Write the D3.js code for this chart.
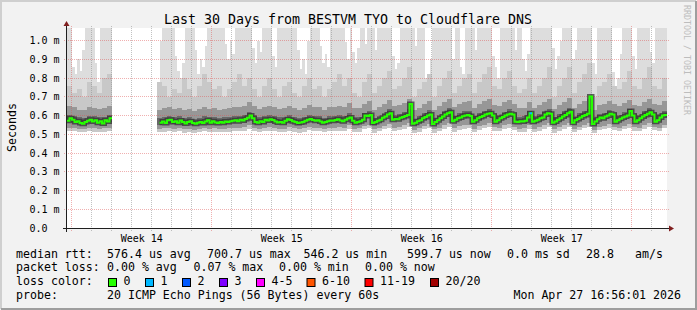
<!DOCTYPE html>
<html>
<head>
<meta charset="utf-8">
<script src="https://cdn.jsdelivr.net/npm/d3@7/dist/d3.min.js"></script>
<style>
  body { margin: 0; background: #f2f2f2; }
  svg { display: block; }
  text { font-family: "DejaVu Sans Mono", monospace; white-space: pre; }
</style>
</head>
<body>
<div id="chart"></div>
<script>
// ---- data ----
// time bins: median and max ping every 3 hours, the other percentiles every 6 hours (values in us)
var startTime = Date.UTC(2026, 2, 29, 18, 20);
var days = 30;

var med3h = [572,585,578,566,570,560,556,565,572,577,568,575,562,570,558,575,568,585,
  null,null,null,null,null,null,null,null,null,null,null,null,null,null,null,null,null,null,null,
  562,568,560,575,578,566,570,562,574,566,558,565,570,560,556,562,566,560,568,575,562,570,
  563,560,566,562,568,565,570,572, 575,570,578,574,582,588,600,585, 566,562,570,565,578,574,580,576,
  568,563,566,562,572,580,576,570, 565,560,563,566,572,578,582,576, 572,575,568,562,565,570,574,572,
  576,580,574,570,578,584,590,572, 562,566,570,578,
  600,598,603,560,565,572,578,588, 595,605,612,578,582,580,588,592, 598,603,661,556,562,570,575,585,
  592,600,605,555,565,575,585,595, 605,612,617,570,578,585,590,596, 600,603,598,567,575,585,592,598,
  605,610,612,600,567,575,585,592, 600,606,610,605,
  567,565,570,568,572,590,612,567, 572,578,585,590,605,612,610,562, 568,578,585,595,603,612,620,562,
  575,582,590,598,603,610,701,555, 568,580,590,585,595,600,610,605, 567,575,583,590,595,600,624,600,
  567,575,585,595,603,610,617,605, 567,575,590,600,603];

var max3h = [1100,1100,860,820,900,840,950,1100,1100,1100,1100,880,780,1100,1100,1100,1100,1100,
  null,null,null,null,null,null,null,null,null,null,null,null,null,null,null,null,null,null,null,
  1000,1100,1100,1100,1100,1100,920,840,800,880,1100,1100,1100,1100,950,820,900,860,970,1100,1100,1100,
  1100,1100,1100,1100,980,900,1000,930, 1100,1100,1100,1100,1100,1100,1100,960, 880,1000,940,1100,1100,1100,1100,920,
  860,1100,1100,1100,1100,1100,1100,1100, 1100,950,850,900,820,1000,1100,1100, 1100,1100,970,880,930,860,1100,1100,
  1100,1100,1100,1100,990,900,1100,940, 880,960,1100,1100,
  980,1100,1100,1100,950,1100,1100,1100, 1100,1100,1100,920,850,880,1100,1100, 1100,1100,1100,1100,970,1100,1100,1100,
  800,750,900,1100,1100,1100,1100,1100, 1100,1100,1100,900,1100,1100,860,820, 1100,1100,1100,1100,950,1100,1100,1100,
  1100,1100,1100,920,860,800,1100,1100, 1100,1100,1100,1100,
  950,1100,1100,900,840,930,1100,1100, 1100,1100,1100,1100,1100,1100,1100,960, 850,920,1000,1100,1100,1100,1100,900,
  950,1100,1100,1100,1100,1100,1100,880, 820,1100,1100,1100,1100,1100,1100,830, 760,800,930,1100,1100,1100,1100,920,
  850,1100,1100,1100,1100,1100,940,880, 1100,1100,1100,1100,1100];

var lo6h = [518,515,512,510,516,514,512,513,517, null,null,null,null,null,null,null,null,null,
  510,514,516,512,515,508,512,506,510,516,512,513,
  510,512,514,518,516,520,528,518,512,516,520,516,510,512,520,514,508,514,522,518,516,510,516,518,520,518,528,512,514,526,
  532,508,516,526,536,518,522,528,538,506,514,526,534,508,518,530,540,514,524,530,532,512,524,532,538,520,518,530,536,522,
  512,514,530,510,520,530,538,508,520,530,540,510,522,532,538,506,522,526,534,522,516,526,536,520,518,530,538,522,518,532];

var p10_6h = [536,533,530,528,534,532,530,531,535, null,null,null,null,null,null,null,null,null,
  528,532,534,530,533,526,530,524,528,534,530,531,
  528,530,532,536,534,538,548,536,530,534,538,534,528,530,538,532,526,532,540,536,534,528,534,536,538,536,548,530,532,546,
  552,526,534,546,556,536,540,548,558,524,532,546,554,526,536,550,560,532,544,550,552,530,544,552,558,540,536,550,556,540,
  530,532,550,528,538,550,558,526,538,550,560,528,540,552,558,524,540,546,554,540,534,546,556,538,536,550,558,540,536,552];

var p25_6h = [568,562,555,550,564,561,556,556,566, null,null,null,null,null,null,null,null,null,
  552,558,562,556,560,552,555,549,553,562,556,557,
  553,555,558,564,564,568,584,566,556,562,567,562,555,557,568,558,552,559,570,564,562,554,562,564,567,564,577,557,558,579,
  590,552,565,581,598,570,574,585,600,549,562,578,592,550,570,590,604,564,577,588,590,561,578,591,601,573,570,586,598,576,
  558,560,591,560,572,588,601,555,572,589,606,558,576,590,602,552,575,580,595,576,569,582,598,574,570,589,603,576,572,591];

var p75_6h = [603,597,590,585,599,596,591,591,601, null,null,null,null,null,null,null,null,null,
  587,593,597,591,595,587,590,584,588,597,591,592,
  588,590,593,599,599,603,619,601,591,597,602,597,590,592,603,593,587,594,605,599,597,589,597,599,602,599,612,592,593,614,
  625,587,600,616,633,605,609,620,635,584,597,613,627,585,605,625,639,599,612,623,625,596,613,626,636,608,605,621,633,611,
  593,595,626,595,607,623,636,590,607,624,641,593,611,625,637,587,610,615,630,611,604,617,633,609,605,624,638,611,607,626];

var p90_6h = [650,645,632,630,648,640,636,638,650, null,null,null,null,null,null,null,null,null,
  630,640,645,636,642,628,635,626,634,645,636,640,
  632,636,640,648,646,652,672,650,636,644,652,646,634,638,652,640,630,640,655,648,644,632,644,648,650,648,665,638,640,662,
  675,630,645,662,682,650,656,668,690,628,642,660,676,630,652,672,690,645,660,672,676,640,660,675,688,655,650,670,684,660,
  638,640,672,640,655,672,688,636,655,672,692,640,660,675,690,632,658,664,680,660,650,665,684,656,652,672,690,660,654,675];

var p95_6h = [760,720,740,700,780,760,720,800,820, null,null,null,null,null,null,null,null,null,
  780,760,700,740,720,800,740,700,760,820,780,740,
  760,700,740,780,820,760,800,740,700,760,800,740,700,760,780,720,700,760,800,740,760,700,740,780,820,760,800,720,700,780,
  820,720,760,800,840,740,760,800,860,700,740,780,820,700,760,800,840,720,760,800,820,720,780,820,860,760,740,800,840,760,
  720,740,800,720,760,800,860,700,760,800,860,720,780,820,880,700,760,780,820,760,740,780,840,760,740,800,860,760,740,800];

// 3h bins where a ping was lost (1 of 20)
var lossBins = [185];

var yTicks = [0, 0.1, 0.2, 0.3, 0.4, 0.5, 0.6, 0.7, 0.8, 0.9, 1.0];
var yLabels = ["0.0", "0.1 m", "0.2 m", "0.3 m", "0.4 m", "0.5 m", "0.6 m", "0.7 m", "0.8 m", "0.9 m", "1.0 m"];
var weekLabels = ["Week 14", "Week 15", "Week 16", "Week 17"];

var rttStats = ["576.4", "700.7", "546.2", "599.7"];
var rttNames = ["avg", "max", "min", "now"];
var lossStats = ["0.00", "0.07", "0.00", "0.00"];
var lossLabels = ["0", "1", "2", "3", "4-5", "6-10", "11-19", "20/20"];
var lossColors = ["#26ff00", "#00b8ff", "#0059ff", "#7e00ff", "#ff00ff", "#ff5500", "#ff0000", "#a10000"];

// ---- drawing ----
var W = 697, H = 310;
var svg = d3.select("#chart").append("svg").attr("width", W).attr("height", H);

// frame
svg.append("rect").attr("width", W).attr("height", H).attr("fill", "#f2f2f2");
svg.append("path").attr("d", "M1,309 V1 H696").attr("fill", "none").attr("stroke", "#cfcfcf").attr("stroke-width", 2);
svg.append("path").attr("d", "M1,309 H696 V1").attr("fill", "none").attr("stroke", "#9e9e9e").attr("stroke-width", 2);

var endTime = startTime + days * 864e5;
var x = d3.scaleUtc().domain([new Date(startTime), new Date(endTime)]).range([67, 667]);
var y = d3.scaleLinear().domain([0, 1.0667]).range([228, 28]);
var px = function (v) { return Math.floor(v) + 0.5; };

svg.append("rect").attr("x", 67).attr("y", 28).attr("width", 600).attr("height", 200).attr("fill", "#fff");

svg.append("clipPath").attr("id", "plotclip")
  .append("rect").attr("x", 67).attr("y", 28).attr("width", 600).attr("height", 200);

// turn bins into step points
function steps(binHours, lower, upper) {
  var dt = binHours * 36e5, pts = [];
  lower.forEach(function (v, i) {
    var a = new Date(startTime + i * dt), b = new Date(startTime + (i + 1) * dt);
    if (v == null || upper[i] == null) { pts.push({t: a, lo: null, hi: null}); return; }
    pts.push({t: a, lo: v, hi: upper[i]}, {t: b, lo: v, hi: upper[i]});
  });
  return pts;
}

var area = d3.area()
  .defined(function (d) { return d.lo != null; })
  .x(function (d) { return x(d.t); })
  .y0(function (d) { return y(d.lo / 1000); })
  .y1(function (d) { return y(d.hi / 1000); });

var smoke = svg.append("g").attr("clip-path", "url(#plotclip)").attr("shape-rendering", "crispEdges");
var layers = [
  [3, med3h, max3h, "#dddddd"],
  [6, lo6h, p95_6h, "#c8c8c8"],
  [6, p10_6h, p90_6h, "#979797"],
  [6, p25_6h, p75_6h, "#686868"]
];
layers.forEach(function (l) {
  smoke.append("path").datum(steps(l[0], l[1], l[2])).attr("d", area).attr("fill", l[3]);
});

// grid
var grid = svg.append("g").attr("stroke-dasharray", "1,1").attr("stroke-width", 1).attr("shape-rendering", "crispEdges");
var mondays = d3.utcMonday.range(new Date(startTime), new Date(endTime));
var daysList = d3.utcDay.range(new Date(startTime), new Date(endTime)).filter(function (d) { return d.getUTCDay() !== 1; });
grid.selectAll(".minor").data(daysList).enter().append("line")
  .attr("x1", function (d) { return px(x(d)); }).attr("x2", function (d) { return px(x(d)); })
  .attr("y1", 26).attr("y2", 231)
  .attr("stroke", "rgba(143,143,143,0.55)");
grid.selectAll(".major").data(mondays).enter().append("line")
  .attr("x1", function (d) { return px(x(d)); }).attr("x2", function (d) { return px(x(d)); })
  .attr("y1", 26).attr("y2", 231)
  .attr("stroke", "rgba(222,79,79,0.45)");
grid.selectAll(".hgrid").data(yTicks.slice(1)).enter().append("line")
  .attr("x1", 64).attr("x2", 670)
  .attr("y1", function (d) { return px(y(d)); }).attr("y2", function (d) { return px(y(d)); })
  .attr("stroke", "rgba(222,79,79,0.45)");

// median line, coloured by loss
var medPts = steps(3, med3h, med3h);
var line = d3.line()
  .defined(function (d) { return d.lo != null; })
  .x(function (d) { return x(d.t); })
  .y(function (d) { return y(d.lo / 1000); });
var medG = svg.append("g").attr("clip-path", "url(#plotclip)").attr("fill", "none");
medG.append("path").datum(medPts).attr("d", line).attr("stroke", "#333333").attr("stroke-width", 5).attr("stroke-opacity", 0.75);
medG.append("path").datum(medPts).attr("d", line).attr("stroke", lossColors[0]).attr("stroke-width", 2);
lossBins.forEach(function (b) {
  var seg = steps(3, med3h.map(function (v, i) { return i === b ? v : null; }), med3h);
  medG.append("path").datum(seg).attr("d", line).attr("stroke", lossColors[1]).attr("stroke-width", 2);
});

// axes
var axisCol = "#1f1f1f", arrowCol = "#801f1f";
svg.append("line").attr("x1", 63).attr("x2", 669).attr("y1", 228.5).attr("y2", 228.5).attr("stroke", axisCol);
svg.append("line").attr("x1", 66.5).attr("x2", 66.5).attr("y1", 232).attr("y2", 26).attr("stroke", axisCol);
svg.append("path").attr("d", "M669,225.5 L674,228.5 L669,231.5 Z").attr("fill", arrowCol);
svg.append("path").attr("d", "M63.5,26 L66.5,21 L69.5,26 Z").attr("fill", arrowCol);

// y labels
svg.selectAll(".ylab").data(yTicks).enter().append("text")
  .attr("x", 29.5).attr("y", function (d) { return y(d) + 3.6; })
  .style("font-size", "10px").attr("fill", "#000")
  .text(function (d, i) { return yLabels[i]; });

// week labels, centred in each week
svg.selectAll(".wlab").data(weekLabels).enter().append("text")
  .attr("x", function (d, i) { return x(new Date(+mondays[i] + 3.5 * 864e5)); })
  .attr("y", 242)
  .attr("text-anchor", "middle")
  .style("font-size", "10px")
  .text(function (d) { return d; });

// titles
svg.append("text").attr("x", 348).attr("y", 24).attr("text-anchor", "middle")
  .style("font-size", "13.3px").text("Last 30 Days from BESTVM TYO to Cloudflare DNS");
svg.append("text").attr("transform", "translate(15.5,127.5) rotate(-90)").attr("text-anchor", "middle")
  .style("font-size", "11.6px").text("Seconds");
svg.append("text").attr("transform", "translate(683.5,5) rotate(90)")
  .style("font-size", "8.3px").attr("fill", "#bdbdbd").text("RRDTOOL / TOBI OETIKER");

// legend
var leg = svg.append("g").style("font-size", "11.6px").attr("fill", "#000");
function put(xp, yp, s, anchor) {
  leg.append("text").attr("x", xp).attr("y", yp).attr("text-anchor", anchor || "start").text(s);
}
var r1 = 257.5, r2 = 271.2, r3 = 285, r4 = 298.6;
put(16, r1, "median rtt:");
[107, 207, 303.5, 407].forEach(function (xp, i) { put(xp, r1, rttStats[i] + " us " + rttNames[i]); });
put(507, r1, "0.0 ms sd");
put(586, r1, "28.8");
put(635, r1, "am/s");

put(16, r2, "packet loss:");
[107, 193.5, 279, 365].forEach(function (xp, i) { put(xp, r2, lossStats[i] + " % " + rttNames[i]); });

put(16, r3, "loss color:");
var boxX = [108.5, 145.5, 182.5, 219.5, 256.5, 307, 365, 430.5];
lossLabels.forEach(function (lab, i) {
  leg.append("rect").attr("x", boxX[i]).attr("y", 278.5).attr("width", 8).attr("height", 8)
    .attr("fill", lossColors[i]).attr("stroke", "#000");
  put(boxX[i] + 15, r3, lab);
});

put(16, r4, "probe:");
put(107, r4, "20 ICMP Echo Pings (56 Bytes) every 60s");
put(681, r4, "Mon Apr 27 16:56:01 2026", "end");
</script>
</body>
</html>
